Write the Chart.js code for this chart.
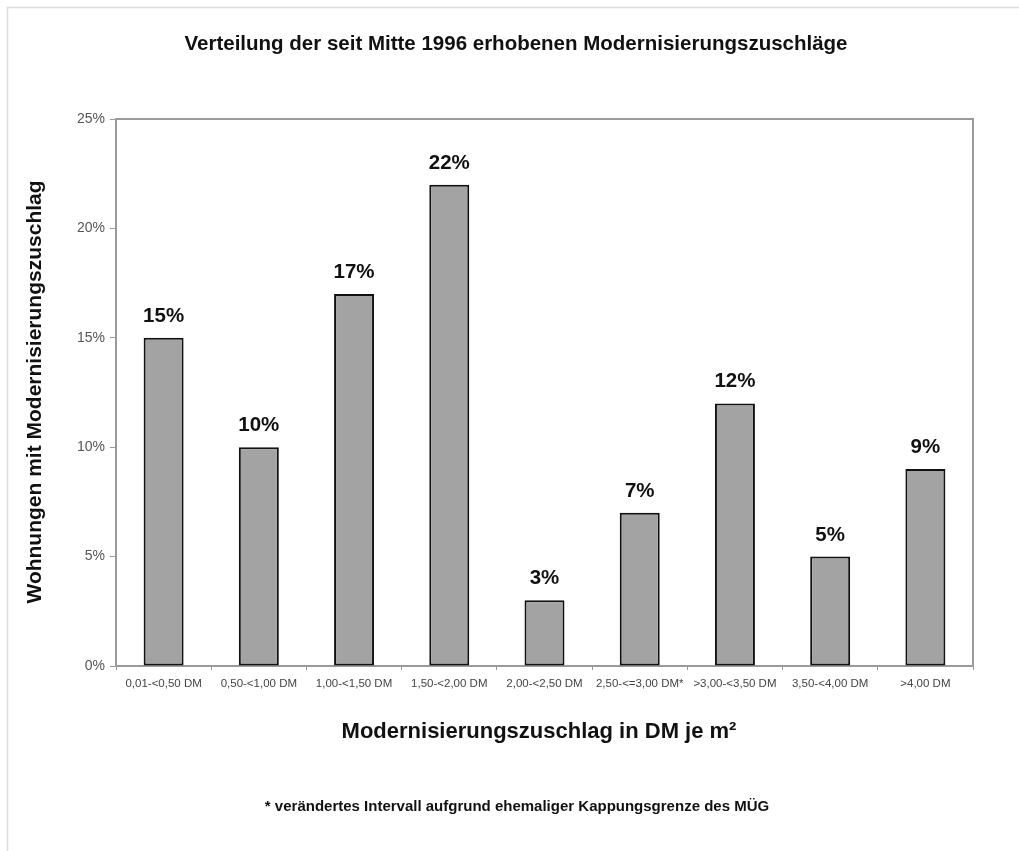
<!DOCTYPE html>
<html>
<head>
<meta charset="utf-8">
<script src="https://cdn.jsdelivr.net/npm/chart.js@4.4.1/dist/chart.umd.min.js"></script>
<style>
  html, body { margin: 0; padding: 0; background: #fff; }
  #wrap { width: 1019px; height: 851px; position: relative; }
</style>
</head>
<body>
<div id="wrap"><canvas id="c" width="1019" height="851"></canvas></div>
<script>
const categories = ['0,01-<0,50 DM', '0,50-<1,00 DM', '1,00-<1,50 DM', '1,50-<2,00 DM', '2,00-<2,50 DM', '2,50-<=3,00 DM*', '>3,00-<3,50 DM', '3,50-<4,00 DM', '>4,00 DM'];
const values = [15, 10, 17, 22, 3, 7, 12, 5, 9];
const yTickValues = [0, 5, 10, 15, 20, 25];
const titleText = 'Verteilung der seit Mitte 1996 erhobenen Modernisierungszuschläge';
const yTitleText = 'Wohnungen mit Modernisierungszuschlag';
const xTitleText = 'Modernisierungszuschlag in DM je m²';
const footnoteText = '* verändertes Intervall aufgrund ehemaliger Kappungsgrenze des MÜG';

const FONT = '"Liberation Sans", Arial, Helvetica, sans-serif';

const decor = {
  id: 'decor',
  beforeDraw(chart) {
    const ctx = chart.ctx;
    ctx.save();
    ctx.fillStyle = '#ffffff';
    ctx.fillRect(0, 0, chart.width, chart.height);
    ctx.strokeStyle = '#dcdcdc';
    ctx.lineWidth = 1.5;
    ctx.beginPath();
    ctx.moveTo(7.5, chart.height);
    ctx.lineTo(7.5, 7.5);
    ctx.lineTo(chart.width, 7.5);
    ctx.stroke();
    ctx.restore();
  },
  beforeDatasetsDraw(chart) {
    const ctx = chart.ctx;
    const a = chart.chartArea;
    ctx.save();
    ctx.strokeStyle = '#9a9a9a';
    ctx.lineWidth = 2;
    ctx.strokeRect(a.left, a.top, a.right - a.left, a.bottom - a.top);
    ctx.restore();
  },
  afterDraw(chart) {
    const ctx = chart.ctx;
    ctx.save();
    ctx.fillStyle = '#111';
    ctx.textAlign = 'center';
    ctx.textBaseline = 'middle';
    ctx.font = 'bold 20.5px ' + FONT;
    ctx.fillText(titleText, 516, 44);
    ctx.font = 'bold 22px ' + FONT;
    ctx.fillText(xTitleText, 539, 732);
    ctx.font = 'bold 15px ' + FONT;
    ctx.fillText(footnoteText, 517, 807);
    ctx.save();
    ctx.translate(35, 392);
    ctx.rotate(-Math.PI / 2);
    ctx.font = 'bold 21px ' + FONT;
    ctx.fillText(yTitleText, 0, 0);
    ctx.restore();
    const meta = chart.getDatasetMeta(0);
    ctx.font = 'bold 20.5px ' + FONT;
    ctx.textBaseline = 'alphabetic';
    meta.data.forEach((bar, i) => {
      ctx.fillText(values[i] + '%', bar.x, bar.y - 16);
    });
    ctx.restore();
  }
};

new Chart(document.getElementById('c'), {
  type: 'bar',
  data: {
    labels: categories,
    datasets: [{
      data: values,
      backgroundColor: '#a3a3a3',
      borderColor: '#111111',
      borderWidth: 2,
      borderSkipped: false,
      categoryPercentage: 1.0,
      barPercentage: 0.42
    }]
  },
  options: {
    responsive: false,
    animation: false,
    devicePixelRatio: 1,
    layout: { padding: { left: 0, top: 119, right: 46, bottom: 145 } },
    plugins: { legend: { display: false }, tooltip: { enabled: false }, title: { display: false } },
    scales: {
      x: {
        grid: { offset: true, drawOnChartArea: false, drawTicks: true, tickLength: 4, color: '#9a9a9a', lineWidth: 1 },
        border: { display: false },
        ticks: { color: '#444', font: { size: 11.5, family: FONT }, maxRotation: 0, minRotation: 0, autoSkip: false, padding: 7 },
        afterFit(s) { s.height = 40; }
      },
      y: {
        min: 0, max: 25,
        afterBuildTicks(s) { s.ticks = yTickValues.map(v => ({ value: v })); },
        grid: { drawOnChartArea: false, drawTicks: true, tickLength: 6, color: '#9a9a9a', lineWidth: 1 },
        border: { display: false },
        ticks: { color: '#555', font: { size: 14, family: FONT }, padding: 5, callback: v => v + '%' },
        afterFit(s) { s.width = 116; }
      }
    }
  },
  plugins: [decor]
});
</script>
</body>
</html>
